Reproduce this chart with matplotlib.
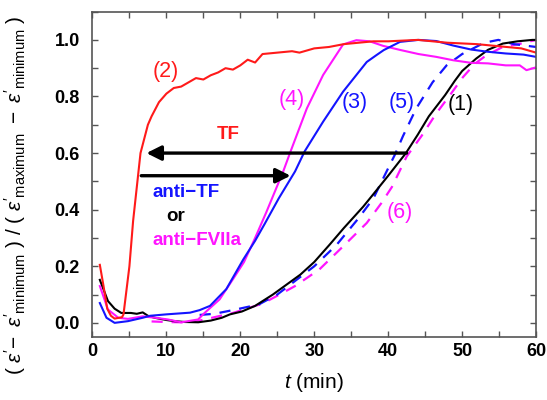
import numpy as np
import matplotlib
matplotlib.use('Agg')
import matplotlib.pyplot as plt
from matplotlib.ticker import MultipleLocator

plt.rcParams['font.family'] = ['Liberation Sans', 'DejaVu Sans']
plt.rcParams['mathtext.fontset'] = 'custom'
plt.rcParams['mathtext.rm'] = 'Liberation Sans'
plt.rcParams['mathtext.it'] = 'Liberation Sans:italic'

# (1) black solid
t1 = [1, 2.1, 3, 3.9, 5.2, 6, 6.8, 7.5, 8.4, 10, 11.1, 12.5, 14.3, 16, 17.5, 18.6, 20.2, 22, 24.4, 26.3,
      28.1, 30, 32.1, 34, 36.6, 38, 40, 42.4, 44, 45.5, 47.7, 49, 50, 51.9, 53.5, 55.5, 57.5, 59.5, 60]
v1 = [0.152, 0.077, 0.05, 0.035, 0.035, 0.032, 0.037, 0.025, 0.018, 0.01, 0.006, 0.003, 0.002, 0.008, 0.018, 0.03,
      0.04, 0.06, 0.1, 0.136, 0.17, 0.215, 0.277, 0.335, 0.41, 0.455, 0.52, 0.6, 0.665, 0.73, 0.805, 0.855, 0.89,
      0.934, 0.965, 0.987, 0.995, 1.0, 1.0]

# (2) red solid, TF
t2 = [1, 1.5, 2, 2.5, 3, 4, 4.2, 5, 5.5, 6, 6.5, 7, 7.5, 8, 9, 10, 11, 12, 13, 14, 15, 16, 17, 18, 19, 20,
      21, 22, 23, 25, 27, 28, 30, 32, 34, 36, 38, 40, 44, 48, 52, 56, 58, 60]
v2 = [0.205, 0.13, 0.05, 0.025, 0.015, 0.02, 0.03, 0.2, 0.36, 0.48, 0.6, 0.65, 0.7, 0.73, 0.78, 0.81, 0.83,
      0.835, 0.85, 0.865, 0.86, 0.875, 0.885, 0.9, 0.895, 0.91, 0.93, 0.92, 0.95, 0.955, 0.96, 0.955, 0.97,
      0.975, 0.985, 0.99, 0.995, 0.995, 1.0, 0.99, 0.985, 0.975, 0.97, 0.955]

# (3) blue solid
t3 = [1, 1.9, 3, 4.8, 6.8, 7.8, 10, 13.2, 14.5, 15.9, 18.1, 20.4, 22, 23.3, 25.2, 27.4, 28.7, 31.2, 33.9,
      37.1, 38.4, 39.4, 41.6, 44.1, 46.5, 48.8, 51.2, 53.5, 55.9, 58.3, 60]
v3 = [0.07, 0.018, 0.0, 0.006, 0.018, 0.025, 0.03, 0.036, 0.045, 0.06, 0.119, 0.224, 0.29, 0.35, 0.44, 0.535,
      0.606, 0.711, 0.817, 0.922, 0.946, 0.964, 0.993, 1.0, 0.996, 0.98, 0.966, 0.958, 0.952, 0.948, 0.94]

# (4) magenta solid
t4 = [1, 2.1, 3.5, 4.8, 6.8, 8.5, 10.2, 12, 14.3, 15, 17.2, 19, 20.5, 22, 23.5, 25.8, 26.8, 29, 31.2, 33.9,
      35.7, 37.5, 39.3, 41.7, 44.1, 46.5, 48.8, 51.2, 53.5, 55.9, 57.8, 58.7, 60]
v4 = [0.13, 0.047, 0.018, 0.014, 0.023, 0.018, 0.012, 0.002, 0.012, 0.031, 0.083, 0.154, 0.215, 0.3, 0.39,
      0.535, 0.606, 0.758, 0.876, 0.984, 0.999, 0.995, 0.979, 0.964, 0.95, 0.94, 0.928, 0.919, 0.917, 0.91,
      0.91, 0.893, 0.903]

# (5) blue dashed
t5 = [14.5, 16.5, 19, 22.5, 25, 28, 30, 33, 36, 38, 39.5, 40.9, 42, 43.8, 46, 47.9, 50, 51.5, 53, 54.9,
      57, 60]
v5 = [0.028, 0.032, 0.045, 0.065, 0.1, 0.16, 0.2, 0.275, 0.37, 0.44, 0.52, 0.594, 0.66, 0.758, 0.85, 0.91,
      0.95, 0.97, 0.99, 1.0, 0.985, 0.975]

# (6) magenta dashed
t6 = [8, 10, 12, 14, 16.5, 19, 21.3, 23, 25.8, 27.4, 30.7, 34.4, 37.1, 39.1, 40.5, 42.5, 44.5, 46.5, 48.5,
      50.1, 51.7, 53.3, 55.5, 57.8, 60]
v6 = [0.005, 0.003, 0.002, 0.005, 0.02, 0.035, 0.054, 0.068, 0.107, 0.13, 0.189, 0.283, 0.353, 0.424, 0.48,
      0.588, 0.66, 0.74, 0.81, 0.868, 0.915, 0.946, 0.975, 0.986, 1.0]

blue = '#1414ff'
magenta = '#ff14ff'
red = '#ff1a1a'

fig = plt.figure(figsize=(5.47, 4.0), dpi=100)
ax = fig.add_axes([0.169, 0.1575, 0.811, 0.8135])

ax.plot(t6, v6, '--', color=magenta, lw=1.6, dashes=(5, 4))
ax.plot(t5, v5, '--', color=blue, lw=1.6, dashes=(5, 4))
ax.plot(t1, v1, '-', color='black', lw=1.5)
ax.plot(t4, v4, '-', color=magenta, lw=1.5)
ax.plot(t3, v3, '-', color=blue, lw=1.5)
ax.plot(t2, v2, '-', color=red, lw=1.5)

# arrows
ax.annotate('', xy=(7.3, 0.6), xytext=(42.5, 0.6),
            arrowprops=dict(arrowstyle='-|>', lw=2.4, color='black', mutation_scale=22, shrinkA=0, shrinkB=0))
ax.annotate('', xy=(26.8, 0.52), xytext=(6.6, 0.52),
            arrowprops=dict(arrowstyle='-|>', lw=2.4, color='black', mutation_scale=22, shrinkA=0, shrinkB=0))

# annotations
lbl = dict(fontsize=15.5, ha='center', va='center')
ax.text(9.9, 0.887, '(2)', color=red, **lbl)
ax.text(26.9, 0.788, '(4)', color=magenta, **lbl)
ax.text(35.5, 0.78, '(3)', color=blue, **lbl)
ax.text(41.8, 0.78, '(5)', color=blue, **lbl)
ax.text(49.8, 0.77, '(1)', color='black', **lbl)
ax.text(41.6, 0.39, '(6)', color=magenta, **lbl)
ax.text(18.4, 0.665, 'TF', color=red, fontsize=13.5, fontweight='bold', ha='center', va='center')
ax.text(12.7, 0.46, 'anti\u2212TF', color=blue, fontsize=13.5, fontweight='bold', ha='center', va='center')
ax.text(11.2, 0.375, 'or', color='black', fontsize=13.5, fontweight='bold', ha='center', va='center')
ax.text(14.2, 0.29, 'anti\u2212FVIIa', color=magenta, fontsize=13.5, fontweight='bold', ha='center', va='center')

ax.set_xlim(0, 60)
ax.set_ylim(-0.05, 1.1)
ax.set_xticks([0, 10, 20, 30, 40, 50, 60])
ax.set_yticks([0.0, 0.2, 0.4, 0.6, 0.8, 1.0])
ax.set_yticklabels(['0.0', '0.2', '0.4', '0.6', '0.8', '1.0'])
ax.xaxis.set_minor_locator(MultipleLocator(5))
ax.yaxis.set_minor_locator(MultipleLocator(0.1))
ax.tick_params(which='both', direction='in', top=True, right=True, length=4, width=1, color='#555555')
ax.tick_params(axis='x', pad=4, labelsize=13)
ax.tick_params(axis='y', pad=9, labelsize=13)
for lab in ax.get_xticklabels() + ax.get_yticklabels():
    lab.set_fontweight('bold')
for s in ax.spines.values():
    s.set_color('#555555')
    s.set_linewidth(1.2)

ax.set_xlabel(r'$t$ (min)', fontsize=15, labelpad=8)
ax.set_ylabel(r"$(\ \varepsilon'\!-\ \varepsilon'_{\mathrm{minimum}}\ )\ /\ (\ \varepsilon'_{\mathrm{maximum}}\ -\ \varepsilon'_{\mathrm{minimum}}\ )$",
              fontsize=15)
ax.yaxis.set_label_coords(-0.145, 0.435)

plt.savefig('out.png', dpi=100)
plt.close()
